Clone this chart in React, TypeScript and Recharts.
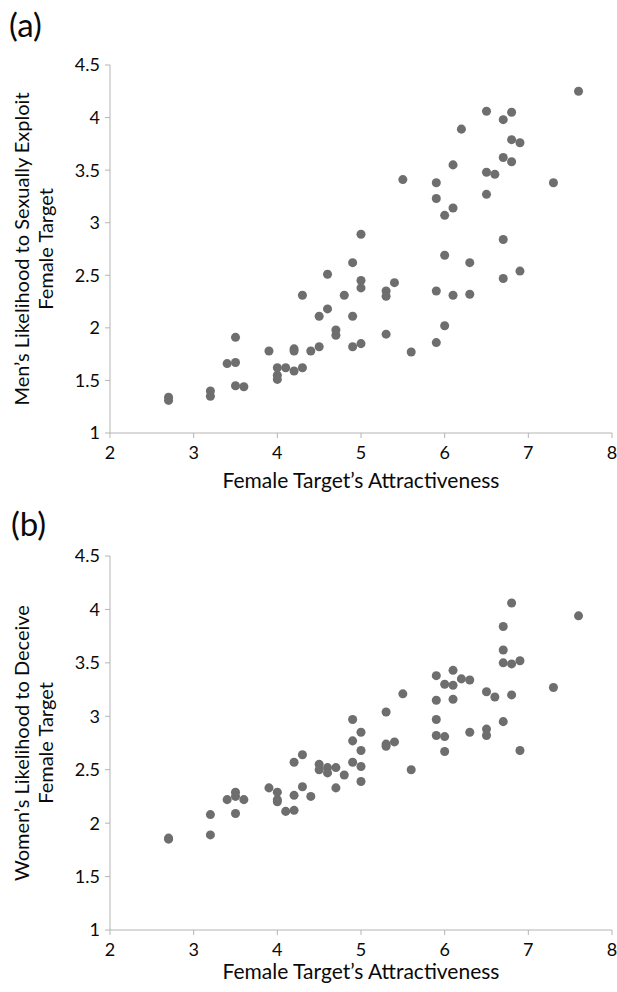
import { Label, ScatterChart, Scatter, XAxis, YAxis, ZAxis } from 'recharts';

// female target's attractiveness (same targets in both panels)
const attractiveness = [
  2.7, 2.7, 3.2, 3.2, 3.4, 3.5, 3.5, 3.5, 3.6, 3.9, 4.0, 4.0, 4.0, 4.1, 4.2, 4.2, 4.2,
  4.3, 4.3, 4.4, 4.5, 4.5, 4.6, 4.6, 4.7, 4.7, 4.8, 4.9, 4.9, 4.9, 5.0, 5.0, 5.0, 5.0,
  5.3, 5.3, 5.3, 5.4, 5.5, 5.6, 5.9, 5.9, 5.9, 5.9, 6.0, 6.0, 6.0, 6.1, 6.1, 6.1, 6.2,
  6.3, 6.3, 6.5, 6.5, 6.5, 6.6, 6.7, 6.7, 6.7, 6.7, 6.8, 6.8, 6.8, 6.9, 6.9, 7.3, 7.6,
];

// (a) men's likelihood to sexually exploit
const exploit = [
  1.34, 1.31, 1.4, 1.35, 1.66, 1.91, 1.67, 1.45, 1.44, 1.78, 1.62, 1.55, 1.51, 1.62, 1.8, 1.78, 1.59,
  2.31, 1.62, 1.78, 2.11, 1.82, 2.51, 2.18, 1.98, 1.93, 2.31, 2.62, 2.11, 1.82, 2.89, 2.45, 2.38, 1.85,
  2.35, 2.3, 1.94, 2.43, 3.41, 1.77, 3.38, 3.23, 2.35, 1.86, 3.07, 2.69, 2.02, 3.55, 3.14, 2.31, 3.89,
  2.62, 2.32, 4.06, 3.48, 3.27, 3.46, 3.98, 3.62, 2.84, 2.47, 4.05, 3.79, 3.58, 3.76, 2.54, 3.38, 4.25,
];

// (b) women's likelihood to deceive
const deceive = [
  1.85, 1.86, 2.08, 1.89, 2.22, 2.29, 2.25, 2.09, 2.22, 2.33, 2.29, 2.22, 2.2, 2.11, 2.57, 2.26, 2.12,
  2.64, 2.34, 2.25, 2.55, 2.5, 2.52, 2.47, 2.52, 2.33, 2.45, 2.97, 2.77, 2.57, 2.85, 2.68, 2.53, 2.39,
  3.04, 2.74, 2.72, 2.76, 3.21, 2.5, 3.38, 3.15, 2.97, 2.82, 3.3, 2.81, 2.67, 3.43, 3.29, 3.16, 3.35,
  3.34, 2.85, 3.23, 2.88, 2.82, 3.18, 3.84, 3.62, 3.5, 2.95, 4.06, 3.49, 3.2, 3.52, 2.68, 3.27, 3.94,
];

const xTicks = [2, 3, 4, 5, 6, 7, 8];
const yTicks = [1, 1.5, 2, 2.5, 3, 3.5, 4, 4.5];

const FONT = 'Lato, "Open Sans", sans-serif';
const AXIS = '#b4b4b4';
const DOT = '#6e6e6e';
const INK = '#0a0a0a';

const dataA = attractiveness.map((x, i) => ({ x, y: exploit[i] }));
const dataB = attractiveness.map((x, i) => ({ x, y: deceive[i] }));

type PanelProps = {
  data: { x: number; y: number }[];
  height: number;
  top: number;
  xAxisHeight: number;
  titleLines: string[];
  xTitleDy: number;
};

const Panel = ({ data, height, top, xAxisHeight, titleLines, xTitleDy }: PanelProps) => {
  const yTitle = (props: any) => {
    const vb = props.viewBox;
    const cy = vb.y + vb.height / 2;
    return (
      <g>
        {titleLines.map((line, i) => (
          <text
            key={line}
            x={29 + i * 24}
            y={cy}
            transform={`rotate(-90, ${29 + i * 24}, ${cy})`}
            textAnchor="middle"
            fontSize={20}
            fontFamily={FONT}
            fill={INK}
          >
            {line}
          </text>
        ))}
      </g>
    );
  };

  return (
    <ScatterChart
      width={617}
      height={height}
      margin={{ top, right: 5, left: 50, bottom: 0 }}
      style={{ fontFamily: FONT }}
    >
      <XAxis
        type="number"
        dataKey="x"
        domain={[2, 8]}
        ticks={xTicks}
        interval={0}
        height={xAxisHeight}
        stroke={AXIS}
        tickSize={5}
        tickMargin={8}
        tick={{ fill: INK, fontSize: 18, fontFamily: FONT }}
      >
        <Label
          value="Female Target’s Attractiveness"
          position="insideTop"
          dy={xTitleDy}
          fontSize={21}
          fontFamily={FONT}
          fill={INK}
        />
      </XAxis>
      <YAxis
        type="number"
        dataKey="y"
        domain={[1, 4.5]}
        ticks={yTicks}
        interval={0}
        width={60}
        stroke={AXIS}
        tickSize={5}
        tickMargin={5}
        tick={{ fill: INK, fontSize: 18, fontFamily: FONT }}
      >
        <Label content={yTitle} />
      </YAxis>
      <ZAxis range={[45, 45]} />
      <Scatter data={data} fill={DOT} isAnimationActive={false} />
    </ScatterChart>
  );
};

const App = () => {
  return (
    <div style={{ position: 'absolute', top: 0, left: 0, width: 617, height: 992, background: '#fff' }}>
      <div style={{ position: 'absolute', top: 0, left: 0 }}>
        <Panel
          data={dataA}
          height={500}
          top={65}
          xAxisHeight={67}
          titleLines={['Men’s Likelihood to Sexually Exploit', 'Female Target']}
          xTitleDy={35}
        />
      </div>
      <div style={{ position: 'absolute', top: 480, left: 0 }}>
        <Panel
          data={dataB}
          height={512}
          top={76}
          xAxisHeight={62}
          titleLines={['Women’s Likelihood to Deceive', 'Female Target']}
          xTitleDy={29}
        />
      </div>
      <div
        style={{ position: 'absolute', left: 9, top: 4, fontSize: 33, fontFamily: FONT, color: INK }}
      >
        (a)
      </div>
      <div
        style={{ position: 'absolute', left: 11, top: 503, fontSize: 33, fontFamily: FONT, color: INK }}
      >
        (b)
      </div>
    </div>
  );
};

export default App;
